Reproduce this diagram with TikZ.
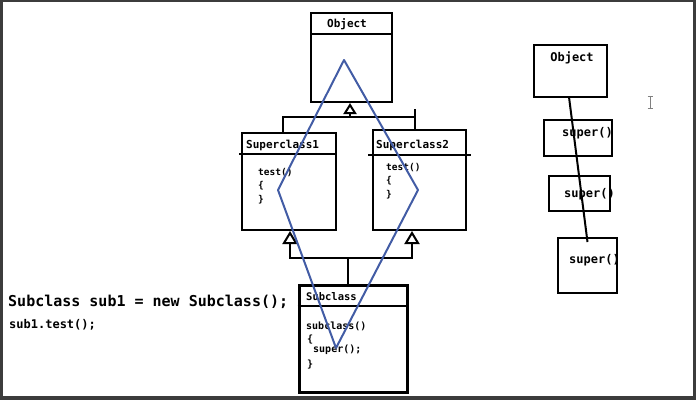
\documentclass[tikz,border=0pt]{standalone}
\usepackage{fontspec}
\setmonofont{DejaVu Sans Mono}
\usetikzlibrary{arrows.meta}

\definecolor{framegray}{RGB}{60,60,60}
\definecolor{pathblue}{RGB}{66,92,165}

\tikzset{
  umlbox/.style={draw, line width=2pt, inner sep=0pt},
  boxtitle/.style={font=\ttfamily\bfseries\fontsize{11}{13}\selectfont, inner sep=0pt},
  method/.style={font=\ttfamily\bfseries\fontsize{9.5}{11}\selectfont, anchor=west, inner sep=0pt},
  callbox/.style={font=\ttfamily\bfseries\fontsize{12}{14}\selectfont, anchor=west, inner sep=0pt},
  link/.style={line width=2pt},
  inherit/.style={line width=2pt, -{Triangle[open, length=13pt, width=15pt]}}
}

\begin{document}
\begin{tikzpicture}[x=1pt, y=-1pt]
    \useasboundingbox (0,0) rectangle (696,400);
    % window frame
    \fill[framegray] (0,0) rectangle (3,400);
    \fill[framegray] (0,0) rectangle (696,2);
    \fill[framegray] (693,0) rectangle (696,400);
    \fill[framegray] (0,396) rectangle (696,400);

    % class boxes
    \node[umlbox, minimum width=81pt, minimum height=89pt] (obj) at (351.5,57.5) {};
    \node[umlbox, minimum width=94pt, minimum height=97pt] (sup1) at (289,181.5) {};
    \node[umlbox, minimum width=93pt, minimum height=100pt] (sup2) at (419.5,180) {};
    \node[umlbox, line width=3pt, minimum width=108pt, minimum height=107pt] (sub) at (353,338.5) {};
    \draw[link] ([yshift=-22pt]obj.north west) -- ([yshift=-22pt]obj.north east);
    \draw[link] ([yshift=-22pt,xshift=-2pt]sup1.north west) -- ([yshift=-22pt]sup1.north east);
    \draw[link] ([yshift=-26pt,xshift=-4pt]sup2.north west) -- ([yshift=-26pt,xshift=4pt]sup2.north east);
    \draw[link] ([yshift=-22pt]sub.north west) -- ([yshift=-22pt]sub.north east);

    \node[boxtitle] (objname) at (347,24) {Object};
    \node[boxtitle, anchor=west] (sup1name) at (246,145) {Superclass1};
    \node[boxtitle, anchor=west] (sup2name) at (376,145) {Superclass2};
    \node[boxtitle, anchor=west, font=\ttfamily\bfseries\fontsize{10.5}{12}\selectfont] (subname) at (306,297) {Subclass};

    \node[method] (s1test) at (258,173) {test()};
    \node[method] (s1open) at (258,186) {\{};
    \node[method] (s1close) at (258,200) {\}};
    \node[method] (s2test) at (386,168) {test()};
    \node[method] (s2open) at (386,181) {\{};
    \node[method] (s2close) at (386,195) {\}};
    \node[method, font=\ttfamily\bfseries\fontsize{10}{12}\selectfont] (subctor) at (306,326) {subclass()};
    \node[method, font=\ttfamily\bfseries\fontsize{10}{12}\selectfont] (subopen) at (307,340) {\{};
    \node[method, font=\ttfamily\bfseries\fontsize{10}{12}\selectfont] (subsuper) at (313,350) {super();};
    \node[method, font=\ttfamily\bfseries\fontsize{10}{12}\selectfont] (subclose) at (307,365) {\}};

    % inheritance lines
    \coordinate (topjoin) at (350,117);
    \coordinate (botjoin) at (348,258);
    \draw[inherit, -{Triangle[open, length=11pt, width=13pt]}] (topjoin) -- (topjoin |- obj.south);
    \draw[link] ([xshift=-6pt]sup1.north) |- ([xshift=-4.5pt]sup2.north |- topjoin);
    \draw[link] ([xshift=-4.5pt]sup2.north) -- ++(0,-20);
    \draw[link] (botjoin) -- (botjoin |- sub.north);
    \draw[inherit] (botjoin) -| ([xshift=1pt]sup1.south);
    \draw[inherit] (botjoin) -| ([xshift=-7.5pt]sup2.south);

    % call path
    \coordinate (ptop) at (344,60);
    \coordinate (pleft) at (278,190);
    \coordinate (pbot) at (336,348);
    \coordinate (pright) at (418,190);
    \draw[pathblue, line width=2pt, line join=round] (ptop) -- (pleft) -- (pbot) -- (pright) -- cycle;

    % client code
    \node[callbox, font=\ttfamily\bfseries\fontsize{15}{17}\selectfont] (newsub) at (8,302) {Subclass sub1 = new Subclass();};
    \node[callbox] (calltest) at (9,325) {sub1.test();};

    % constructor chain
    \node[umlbox, minimum width=73pt, minimum height=52pt] (robj) at (570.5,71) {};
    \node[umlbox, minimum width=68pt, minimum height=36pt] (rsup1) at (578,138) {};
    \node[umlbox, minimum width=61pt, minimum height=35pt] (rsup2) at (579.5,193.5) {};
    \node[umlbox, minimum width=59pt, minimum height=55pt] (rsub) at (587.5,265.5) {};
    \node[callbox, anchor=center] (robjname) at (572,58) {Object};
    \node[callbox] (rsup1call) at (562,133) {super()};
    \node[callbox] (rsup2call) at (564,194) {super()};
    \node[callbox] (rsubcall) at (569,260) {super()};
    \draw[link] ([xshift=-1.5pt,yshift=1pt]robj.south) -- ([yshift=-5pt]rsub.north);

    % text cursor
    \draw[gray, line width=0.8pt] (650,96) -- (650,108);
    \draw[gray, line width=0.8pt] (647.5,96) -- (652.5,96);
    \draw[gray, line width=0.8pt] (647.5,108) -- (652.5,108);
\end{tikzpicture}
\end{document}
